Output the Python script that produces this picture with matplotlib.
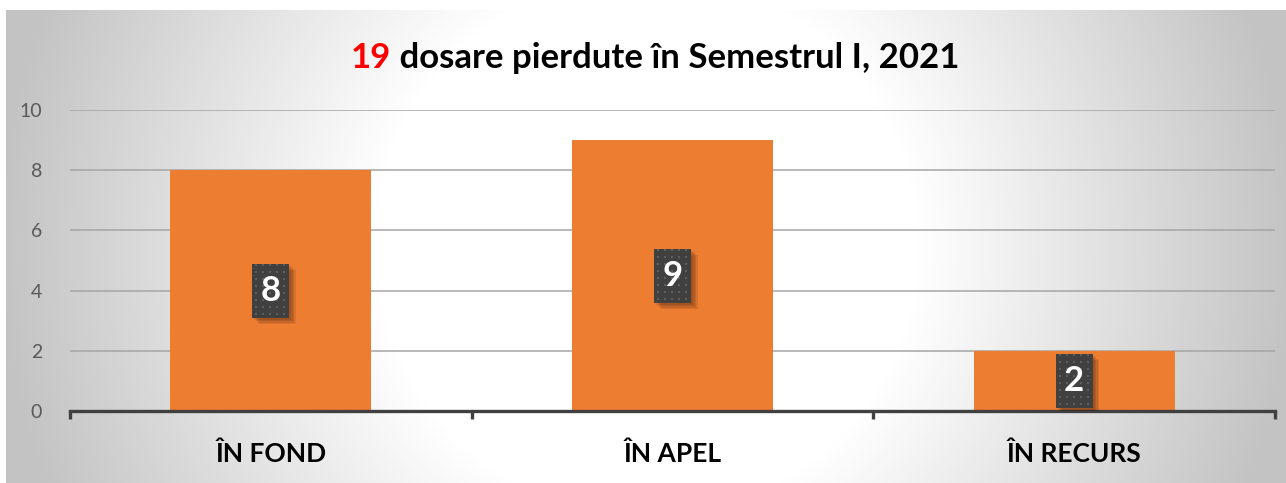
import numpy as np
import matplotlib
matplotlib.use("Agg")
from matplotlib import pyplot as plt
from matplotlib.colors import LinearSegmentedColormap
from matplotlib.patches import Rectangle
from matplotlib.transforms import IdentityTransform, ScaledTranslation

categories = ["ÎN FOND", "ÎN APEL", "ÎN RECURS"]
values = [8, 9, 2]
total = "19"
title_rest = " dosare pierdute în Semestrul I, 2021"
yticks = [0, 2, 4, 6, 8, 10]

plt.rcParams['font.family'] = ['Lato', 'DejaVu Sans']

W, H = 1286, 483
fig = plt.figure(figsize=(W / 100, H / 100), dpi=100)

# background: radial gradient, white centre, grey edges
bg = fig.add_axes([6 / W, 0, 1 - 6 / W, (H - 10) / H], zorder=-5)
gx, gy = np.meshgrid(np.arange(1280), np.arange(473))
r = np.hypot(gx - 640, gy - 235)
shade = np.clip((r - 270) / 380, 0, 1)
cmap = LinearSegmentedColormap.from_list("bg", ["#ffffff", "#c3c3c3"])
bg.imshow(shade, cmap=cmap, vmin=0, vmax=1, aspect='auto', interpolation='bilinear')
bg.set_axis_off()

ax = fig.add_axes([70 / W, 72 / H, (1275 - 70) / W, (411 - 110) / H])
ax.patch.set_alpha(0)
x = np.arange(len(categories))
ax.bar(x, values, width=0.5, color='#ED7D31', zorder=2)
ax.set_xlim(-0.5, len(categories) - 0.5)
ax.set_ylim(0, 10)
ax.set_yticks(yticks)
ax.set_yticklabels([str(t) for t in yticks], fontsize=14, color='#595959')
ax.tick_params(axis='y', length=0, pad=20)
ax.set_xticks(x)
ax.set_xticklabels(categories, fontsize=19, fontweight='bold', color='black')
ax.tick_params(axis='x', which='major', length=0, pad=22)
ax.set_xticks(np.arange(len(categories) + 1) - 0.5, minor=True)
ax.tick_params(axis='x', which='minor', length=6, width=2.4, color='#404040', direction='out')
ax.grid(axis='y', color='#a5a5a5', linewidth=1.1, zorder=0)
for s in ['top', 'right', 'left']:
    ax.spines[s].set_visible(False)
ax.spines['bottom'].set_color('#404040')
ax.spines['bottom'].set_linewidth(2.4)
ax.spines['bottom'].set_zorder(3)

# value labels: dark dotted boxes (37x54 px) with a soft shadow
bw, bh = 37, 54
for xi, v in zip(x, values):
    tr = IdentityTransform() + ScaledTranslation(xi, v / 2, ax.transData)
    for k in range(4):
        off = 2 + 1.5 * k
        ax.add_patch(Rectangle((-bw / 2 + off, -bh / 2 - off), bw, bh, transform=tr,
                               fc='black', ec='none', alpha=0.09, zorder=4))
    ax.add_patch(Rectangle((-bw / 2, -bh / 2), bw, bh, transform=tr,
                           fc='#404040', ec='none', zorder=5))
    dx = np.arange(-bw / 2 + 4, bw / 2, 7)
    dy = np.arange(-bh / 2 + 4, bh / 2, 7)
    px, py = np.meshgrid(dx, dy)
    ax.plot(px.ravel(), py.ravel(), 's', ms=1.6, mew=0, color='#5e5e5e',
            transform=tr, zorder=6)
    ax.text(xi, v / 2, str(v), ha='center', va='center', fontsize=25, fontweight='bold',
            color='white', zorder=7)

# title: red count followed by black text
t1 = fig.text(0, 0, total, fontsize=25, fontweight='bold', color='#ff0000', va='baseline')
t2 = fig.text(0, 0, title_rest, fontsize=25, fontweight='bold', color='black', va='baseline')
fig.canvas.draw()
rr = fig.canvas.get_renderer()
w1 = t1.get_window_extent(rr).width
w2 = t2.get_window_extent(rr).width
x0 = 655 - (w1 + w2) / 2
yb = (H - 68) / H
t1.set_position((x0 / W, yb))
t2.set_position(((x0 + w1) / W, yb))

fig.savefig('out.png', dpi=100)
